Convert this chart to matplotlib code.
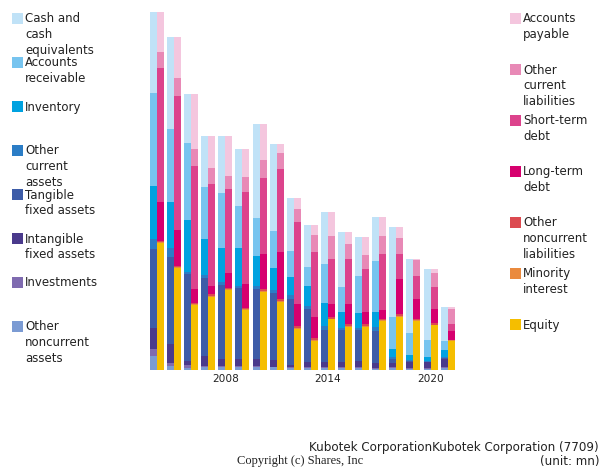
import numpy as np
import matplotlib
matplotlib.use("Agg")
from matplotlib import pyplot as plt
from matplotlib.patches import Rectangle

years = np.arange(2004, 2022)

# assets (bottom -> top order is reversed below)
cash = [242, 277, 146, 152, 170, 170, 282, 261, 158, 124, 155, 164, 116, 131, 269, 224, 212, 101]
receivable = [279, 218, 231, 156, 165, 126, 114, 111, 78, 57, 117, 77, 111, 155, 97, 64, 50, 29]
inventory = [161, 140, 155, 109, 103, 114, 91, 67, 55, 61, 70, 46, 45, 44, 24, 16, 13, 20]
other_current = [30, 27, 8, 10, 10, 6, 10, 10, 12, 10, 13, 7, 6, 13, 7, 2, 2, 4]
tangible = [237, 261, 260, 234, 222, 213, 208, 200, 197, 159, 96, 97, 94, 94, 10, 3, 2, 3]
intangible = [62, 56, 12, 29, 20, 22, 22, 20, 6, 13, 13, 13, 19, 17, 14, 19, 17, 24]
investments = [21, 8, 8, 4, 3, 4, 4, 2, 3, 3, 3, 3, 2, 1, 2, 2, 2, 1]
other_noncurrent = [42, 13, 7, 8, 9, 8, 8, 8, 7, 7, 7, 7, 6, 4, 6, 4, 4, 7]

# liabilities and equity
payable = [121, 124, 163, 96, 121, 84, 108, 27, 34, 28, 71, 35, 53, 57, 32, 3, 10, 6]
other_cur_liab = [46, 53, 51, 48, 37, 44, 54, 48, 37, 51, 69, 45, 44, 53, 48, 48, 42, 44]
short_debt = [402, 404, 369, 306, 252, 277, 229, 251, 248, 195, 135, 135, 127, 168, 75, 69, 68, 21]
long_debt = [117, 107, 42, 25, 46, 72, 106, 141, 65, 63, 41, 61, 37, 28, 106, 61, 42, 27]
other_nc_liab = [4, 3, 4, 5, 3, 3, 5, 5, 7, 7, 4, 6, 6, 4, 6, 4, 4, 2]
minority = [2, 2, 2, 2, 2, 2, 2, 2, 2, 2, 2, 2, 2, 2, 2, 2, 2, 1]
equity = [382, 307, 196, 220, 241, 181, 235, 205, 123, 88, 152, 130, 130, 147, 160, 147, 134, 88]

asset_labels = ["Cash and\ncash\nequivalents", "Accounts\nreceivable", "Inventory",
                "Other\ncurrent\nassets", "Tangible\nfixed assets", "Intangible\nfixed assets",
                "Investments", "Other\nnoncurrent\nassets"]
asset_colors = ["#c0e2f7", "#77c4ef", "#00a2e0", "#2b7dc6", "#3d5ca8", "#4a3a8c", "#7f6bb0", "#7b9bd3"]
asset_data = [cash, receivable, inventory, other_current, tangible, intangible, investments, other_noncurrent]

liab_labels = ["Accounts\npayable", "Other\ncurrent\nliabilities", "Short-term\ndebt",
               "Long-term\ndebt", "Other\nnoncurrent\nliabilities", "Minority\ninterest", "Equity"]
liab_colors = ["#f4c6de", "#e889b6", "#dc438c", "#d6006e", "#dc4a50", "#ea8a3e", "#f5be00"]
liab_data = [payable, other_cur_liab, short_debt, long_debt, other_nc_liab, minority, equity]

W, H = 600, 470
fig = plt.figure(figsize=(6, 4.7), dpi=100)
ax = fig.add_axes([145 / W, 100 / H, 315 / W, 360 / H])

bw = 0.41
# stack from bottom: reverse the lists (top item first in legend)
bottom = np.zeros(len(years))
for vals, col in zip(asset_data[::-1], asset_colors[::-1]):
    ax.bar(years, vals, width=-bw, align="edge", bottom=bottom, color=col, linewidth=0)
    bottom += np.array(vals)
bottom = np.zeros(len(years))
for vals, col in zip(liab_data[::-1], liab_colors[::-1]):
    ax.bar(years, vals, width=bw, align="edge", bottom=bottom, color=col, linewidth=0)
    bottom += np.array(vals)

ax.set_xlim(2003.3, 2021.72)
ax.set_ylim(0, 1080)
ax.set_xticks([2008, 2014, 2020])
ax.set_xticklabels(["2008", "2014", "2020"], fontsize=7.6, color="#222222")
ax.tick_params(axis="x", length=0, pad=3)
ax.set_yticks([])
for s in ax.spines.values():
    s.set_visible(False)

# legends drawn by hand
def legend_item(x, ytop, color, label):
    fig.add_artist(Rectangle((x / W, 1 - (ytop + 11) / H), 11 / W, 11 / H,
                             transform=fig.transFigure, color=color, linewidth=0))
    fig.text((x + 13) / W, 1 - (ytop - 0.5) / H, label, fontsize=8.5, va="top", ha="left",
             linespacing=1.27, color="#222222")

for i, (lab, col) in enumerate(zip(asset_labels, asset_colors)):
    legend_item(12, 13 + 44 * i, col, lab)
for i, (lab, col) in enumerate(zip(liab_labels, liab_colors)):
    legend_item(510, 13 + 51 * i, col, lab)

fig.text(599 / W, 1 - 448 / H, "Kubotek CorporationKubotek Corporation (7709)",
         fontsize=8.6, ha="right", va="center", color="#222222")
fig.text(599 / W, 1 - 461 / H, "(unit: mn)", fontsize=8.6, ha="right", va="center", color="#222222")
fig.text(300 / W, 1 - 461 / H, "Copyright (c) Shares, Inc", fontsize=9, ha="center", va="center",
         family="Liberation Serif", color="#222222")

fig.savefig("out.png", dpi=100)
